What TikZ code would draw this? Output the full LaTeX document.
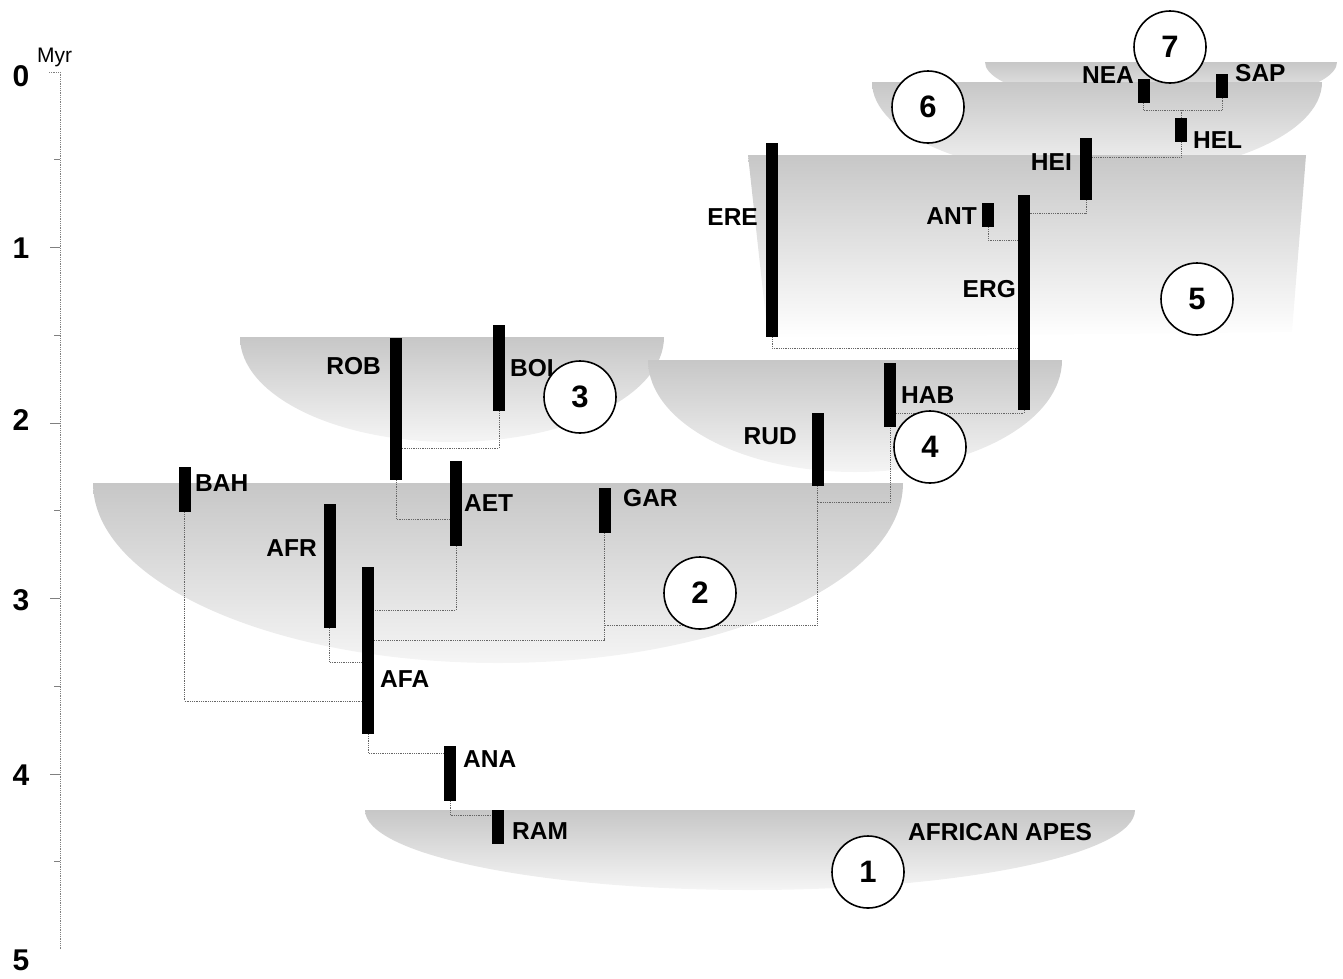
\documentclass[tikz,border=0pt]{standalone}
\usepackage{fontspec}
\setmainfont{Liberation Sans}

\begin{document}
\begin{tikzpicture}[x=1pt, y=-1pt,
	bar/.style={rectangle, fill=black, inner sep=0pt, minimum width=12pt},
	tag/.style={inner sep=0pt, font=\fontsize{24.5}{28}\selectfont\bfseries},
	num/.style={circle, draw=black, line width=1.6pt, fill=white, minimum size=72pt, inner sep=0pt, font=\fontsize{31}{34}\selectfont\bfseries},
	link/.style={densely dotted, black!60, line width=0.8pt},
	bowl/.style={top color=black!22, bottom color=black!4}]
			\useasboundingbox (0,0) rectangle (1343,978);

			% shaded grades
			\path[bowl] (365,810) arc[start angle=180, end angle=360, x radius=385pt, y radius=80pt] -- cycle;
			\path[bowl] (93,483) arc[start angle=180, end angle=360, x radius=405pt, y radius=180pt] -- cycle;
			\path[bowl] (240,337) arc[start angle=180, end angle=360, x radius=212pt, y radius=105pt] -- cycle;
			\path[bowl] (648,360) arc[start angle=180, end angle=360, x radius=207pt, y radius=112pt] -- cycle;
			\path[bowl] (985,62) arc[start angle=180, end angle=360, x radius=176pt, y radius=45pt] -- cycle;
			\path[bowl] (872,82) arc[start angle=180, end angle=360, x radius=225pt, y radius=95pt] -- cycle;
			\path[bowl, bottom color=white] (748,155) -- (1306,155) -- (1292,332) -- (768,338) -- cycle;

			% time axis
			\draw[gray, densely dotted, line width=0.8pt] (49,72) -- (60,72) -- (60,950);
			\foreach \t in {1,...,4}
				\draw[gray, line width=0.8pt] (50,72+175.5*\t) -- (60,72+175.5*\t);
			\foreach \t in {0,...,4}
				\draw[gray, line width=0.8pt] (54,159.75+175.5*\t) -- (60,159.75+175.5*\t);
			\foreach \v/\p in {0/76, 1/248, 2/420, 3/600, 4/775, 5/960}
				\node[inner sep=0pt, font=\fontsize{30}{34}\selectfont\bfseries] (y\v) at (21,\p){\v};
			\node[anchor=base west, inner sep=0pt, font=\fontsize{21}{24}\selectfont] (myr) at (37,62){Myr};

			% taxa
			\node[bar, minimum height=34pt] (ram) at (498,827){};
			\node[bar, minimum height=55pt] (ana) at (450,773.5){};
			\node[bar, minimum height=167pt] (afa) at (368,650.5){};
			\node[bar, minimum height=45pt] (bah) at (184.5,489.5){};
			\node[bar, minimum height=124pt] (afr) at (329.5,566){};
			\node[bar, minimum height=85pt] (aet) at (456,503.5){};
			\node[bar, minimum height=142pt] (rob) at (396,409){};
			\node[bar, minimum height=86pt] (boi) at (499,368){};
			\node[bar, minimum height=45pt] (gar) at (604.5,510.5){};
			\node[bar, minimum height=73pt] (rud) at (817.5,449.5){};
			\node[bar, minimum height=64pt] (hab) at (890,395){};
			\node[bar, minimum height=215pt] (erg) at (1024,302.5){};
			\node[bar, minimum height=194pt] (ere) at (772,240){};
			\node[bar, minimum height=24pt] (ant) at (988,215){};
			\node[bar, minimum height=62pt] (hei) at (1086,169){};
			\node[bar, minimum height=24pt] (hel) at (1181,130){};
			\node[bar, minimum height=24pt] (nea) at (1143.5,91){};
			\node[bar, minimum height=24pt] (sap) at (1222,86){};

			% links
			\draw[link] (ana.south) |- ([yshift=12pt]ram.west);
			\draw[link] (afa.south) |- ([yshift=20.5pt]ana.west);
			\draw[link] (bah.south) |- ([yshift=-50.5pt]afa.west);
			\draw[link] (afr.south) |- ([yshift=-11.5pt]afa.west);
			\draw[link] (aet.south) |- ([yshift=40.5pt]afa.east);
			\draw[link] (gar.south) |- ([yshift=10.5pt]afa.east);
			\draw[link] (rob.south) |- ([yshift=-15.5pt]aet.west);
			\draw[link] (boi.south) |- ([yshift=-39pt]rob.east);
			\draw[link] (rud.south) -- ++(0,16) -| (hab.south);
			\draw[link] (rud.south) |- ([yshift=-92pt]gar.south);
			\draw[link] (erg.south) |- ([yshift=-18pt]hab.east);
			\draw[link] (ere.south) |- ([yshift=-45.5pt]erg.west);
			\draw[link] (ant.south) |- ([yshift=62.5pt]erg.west);
			\draw[link] (hei.south) |- ([yshift=89.5pt]erg.east);
			\draw[link] (hel.south) |- ([yshift=12pt]hei.east);
			\draw[link] (nea.south) -- ++(0,7) -| (sap.south);
			\draw[link] (hel.north) -- ++(0,-8);

			% names
			\node[tag, anchor=west] (tram) at (512,831){RAM};
			\node[tag, anchor=west] (tana) at (463,759){ANA};
			\node[tag, anchor=west] (tafa) at (380,679){AFA};
			\node[tag, anchor=west] (tbah) at (195,483){BAH};
			\node[tag, anchor=east] (tafr) at (317,548){AFR};
			\node[tag, anchor=west] (taet) at (464,503){AET};
			\node[tag, anchor=east] (trob) at (381,366){ROB};
			\node[tag, anchor=west] (tboi) at (510,368){BOI};
			\node[tag, anchor=west] (tgar) at (623,498){GAR};
			\node[tag, anchor=east] (trud) at (797,436){RUD};
			\node[tag, anchor=west] (thab) at (901,395){HAB};
			\node[tag, anchor=east] (terg) at (1016,289){ERG};
			\node[tag, anchor=east] (tere) at (758,217){ERE};
			\node[tag, anchor=east] (tant) at (977,216){ANT};
			\node[tag, anchor=east] (thei) at (1072,162){HEI};
			\node[tag, anchor=west] (thel) at (1193,140){HEL};
			\node[tag, anchor=east] (tnea) at (1134,75){NEA};
			\node[tag, anchor=west] (tsap) at (1235,73){SAP};
			\node[tag, anchor=west] (tapes) at (908,832){AFRICAN APES};

			% grades
			\node[num] (c1) at (868,872){1};
			\node[num] (c2) at (700,593){2};
			\node[num] (c3) at (580,397){3};
			\node[num] (c4) at (930,447){4};
			\node[num] (c5) at (1197,299){5};
			\node[num] (c6) at (928,107){6};
			\node[num] (c7) at (1170,47){7};
			\end{tikzpicture}
\end{document}
